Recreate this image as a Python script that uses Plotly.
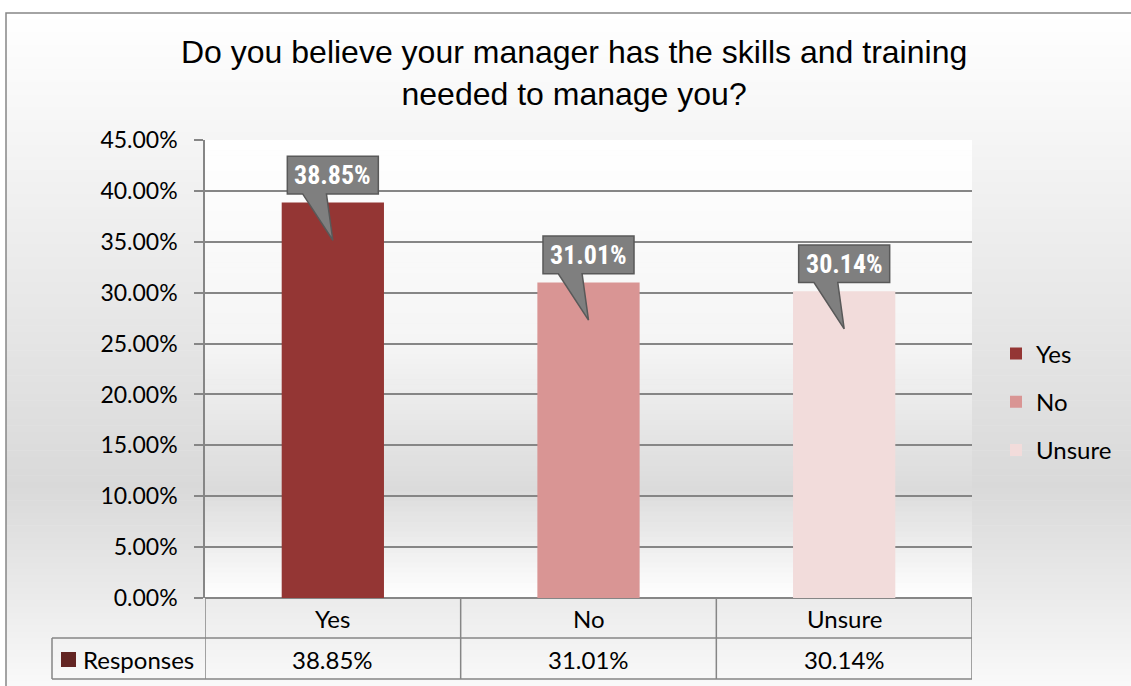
import plotly.graph_objects as go

# ---------------- data ----------------
categories = ["Yes", "No", "Unsure"]
values = [38.85, 31.01, 30.14]
value_labels = ["38.85%", "31.01%", "30.14%"]
bar_colors = ["#943634", "#D99594", "#F2DCDB"]
series_name = "Responses"
title_text = "Do you believe your manager has the skills and training<br>needed to manage you?"
y_tick_vals = [0, 5, 10, 15, 20, 25, 30, 35, 40, 45]
y_tick_text = [f"{v:.2f}%" for v in y_tick_vals]

# ---------------- geometry (styling) ----------------
W_FIG, H_FIG = 1131, 686
L, R_EDGE, T, B = 205, 972, 140, 598
PW, PH = R_EDGE - L, B - T

def xp(px):
    return (px - L) / PW

def yp(py):
    return (B - py) / PH

GRID = "#868686"
FONT = "Lato, Carlito, Calibri, Open Sans, sans-serif"
FS = 24

fig = go.Figure()
x_pos = list(range(len(categories)))
for i, (c, v, col) in enumerate(zip(categories, values, bar_colors)):
    fig.add_trace(go.Bar(
        x=[x_pos[i]], y=[v], name=c, marker=dict(color=col, line=dict(width=0)),
        width=0.40, legendgroup=c, hoverinfo="skip",
    ))

shapes = []
annotations = []

def gray(g):
    g = int(round(g))
    return f"rgb({g},{g},{g})"

def gradient(y_top, y_bot, x0, x1, stops, n=90):
    h = (y_bot - y_top) / n
    for k in range(n):
        f = (k + 0.5) / n
        for j in range(len(stops) - 1):
            if stops[j][0] <= f <= stops[j + 1][0]:
                a, b = stops[j], stops[j + 1]
                t = (f - a[0]) / (b[0] - a[0])
                g = a[1] + (b[1] - a[1]) * t
                break
        shapes.append(dict(type="rect", xref="paper", yref="paper",
                           x0=xp(x0), x1=xp(x1),
                           y0=yp(y_top + k * h), y1=yp(y_top + (k + 1) * h + 0.6),
                           fillcolor=gray(g), line=dict(width=0), layer="below"))

# chart-area gradient
gradient(13, 700, 6, 1140, [(0, 255), (0.69, 217), (1.0, 252)], n=110)
# plot-area gradient
gradient(T, B, L, R_EDGE, [(0, 255), (0.45, 245), (0.76, 219), (1.0, 255)], n=90)

# chart border
shapes.append(dict(type="rect", xref="paper", yref="paper",
                   x0=xp(6), x1=xp(1145), y0=yp(13), y1=yp(705),
                   line=dict(color=GRID, width=1.5), fillcolor="rgba(0,0,0,0)", layer="below"))

# ---------------- data table ----------------
row1_mid, row2_mid = 618, 659
tl = dict(color=GRID, width=1.5)
for y in (638, 679):
    shapes.append(dict(type="line", xref="paper", yref="paper",
                       x0=xp(52), x1=xp(R_EDGE), y0=yp(y), y1=yp(y), line=tl))
shapes.append(dict(type="line", xref="paper", yref="paper",
                   x0=xp(52), x1=xp(52), y0=yp(638), y1=yp(679), line=tl))
for xv in [-0.5 + k for k in range(len(categories) + 1)]:
    shapes.append(dict(type="line", xref="x", yref="paper",
                       x0=xv, x1=xv, y0=yp(598), y1=yp(679), line=tl))
for i, (c, lab) in enumerate(zip(categories, value_labels)):
    annotations.append(dict(x=i, y=yp(row1_mid), xref="x", yref="paper", text=c,
                            showarrow=False, xanchor="center", yanchor="middle",
                            font=dict(family=FONT, size=FS, color="black")))
    annotations.append(dict(x=i, y=yp(row2_mid), xref="x", yref="paper", text=lab,
                            showarrow=False, xanchor="center", yanchor="middle",
                            font=dict(family=FONT, size=FS, color="black")))
# series key in table
shapes.append(dict(type="rect", xref="paper", yref="paper",
                   x0=xp(61), x1=xp(76), y0=yp(667), y1=yp(652),
                   fillcolor="#632523", line=dict(width=0)))
annotations.append(dict(x=xp(81), y=yp(row2_mid), xref="paper", yref="paper",
                        text=series_name, showarrow=False, xanchor="left", yanchor="middle",
                        font=dict(family=FONT, size=FS, color="black")))

# ---------------- callouts ----------------
for i, v in enumerate(values):
    yb, yt, ytip = v + 0.85, v + 4.55, v - 3.7
    x0, x1 = i - 0.178, i + 0.178
    bl, br = i - 0.118, i - 0.025
    path = (f"M {x0},{yb} L {bl},{yb} L {i},{ytip} L {br},{yb} L {x1},{yb} "
            f"L {x1},{yt} L {x0},{yt} Z")
    shapes.append(dict(type="path", xref="x", yref="y", path=path,
                       fillcolor="#7f7f7f", line=dict(color="#595959", width=1.5)))
    annotations.append(dict(x=i, y=(yb + yt) / 2, xref="x", yref="y",
                            text=f"<b>{value_labels[i]}</b>", showarrow=False,
                            xanchor="center", yanchor="middle",
                            font=dict(family="Liberation Sans Narrow, Arial Narrow, Roboto Condensed, Liberation Sans",
                                      size=26, color="white")))

# title
annotations.append(dict(x=xp(574), y=yp(73), xref="paper", yref="paper", text=title_text,
                        showarrow=False, xanchor="center", yanchor="middle",
                        font=dict(family="Liberation Sans, Arial, sans-serif", size=32, color="black")))

fig.update_layout(
    width=W_FIG, height=H_FIG,
    margin=dict(l=L, r=W_FIG - R_EDGE, t=T, b=H_FIG - B, autoexpand=False),
    paper_bgcolor="white", plot_bgcolor="rgba(0,0,0,0)",
    barmode="overlay", showlegend=True,
    legend=dict(x=xp(996), xanchor="left", y=yp(402), yanchor="middle",
                bgcolor="rgba(0,0,0,0)", font=dict(family=FONT, size=FS, color="black"),
                tracegroupgap=14, itemwidth=30),
    shapes=shapes, annotations=annotations,
    xaxis=dict(range=[-0.5, len(categories) - 0.5], showticklabels=False, showgrid=False,
               zeroline=False, showline=False, fixedrange=True),
    yaxis=dict(range=[0, 45], tickvals=y_tick_vals, ticktext=y_tick_text,
               showgrid=True, gridcolor=GRID, gridwidth=1.5,
               zeroline=True, zerolinecolor=GRID, zerolinewidth=1.5,
               showline=True, linecolor=GRID, linewidth=1.5,
               ticks="outside", ticklen=9, tickcolor=GRID, tickwidth=1.5,
               tickfont=dict(family=FONT, size=23, color="black"), ticklabelstandoff=12),
)

fig.write_html("out.html", config={"displayModeBar": False},
               post_script="document.body.style.margin='0';document.body.style.overflow='hidden';")
